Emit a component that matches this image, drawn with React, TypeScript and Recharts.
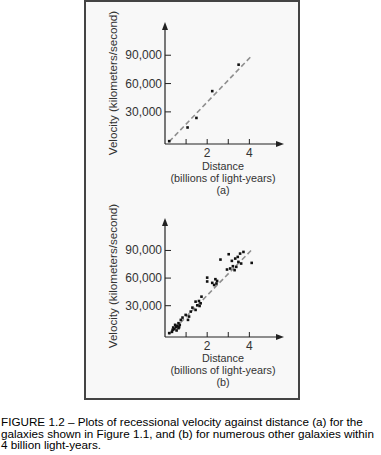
import React from "react";
import {
  ScatterChart,
  Scatter,
  XAxis,
  YAxis,
  ReferenceLine,
} from "recharts";

// (a) galaxies of Figure 1.1: distance (billions of ly), velocity (km/s)
const distA = [0.2, 1.07, 1.49, 2.24, 3.49];
const velA = [-1000, 13500, 23600, 52000, 80000];
const fitA = [
  { x: 0.2, y: -1500 },
  { x: 4.05, y: 88000 },
];

// (b) numerous other galaxies
const distB = [
  3.72, 3.56, 3.45, 3.33, 3.17, 3.02, 2.63, 3.48, 3.61, 3.22, 3.38, 3.09, 2.94, 3.3, 4.11,
  2.0, 2.0, 2.24, 2.39, 2.47, 2.44, 2.33,
  1.73, 1.61, 1.45, 1.69, 1.53, 1.64, 1.45, 1.3, 1.22, 1.14, 0.98, 1.09, 0.83, 0.75, 0.64,
  0.58, 0.7, 0.52, 0.44, 0.36, 0.33, 0.2, 0.55, 0.64, 0.67, 0.48, 0.39,
];
const velB = [
  88400, 86600, 83000, 81200, 78700, 85900, 80100, 77600, 75800, 72900, 72200, 70400, 69300, 68600, 76500,
  60500, 56300, 54800, 58800, 56900, 54100, 52500,
  39800, 35100, 34400, 32600, 30400, 29700, 25400, 27900, 23600, 18200, 20000, 14600, 17100, 14600, 11000,
  8100, 9200, 6700, 4500, 3800, 1600, 200, 3100, 5600, 6700, 9200, 6300,
];
const fitB = [
  { x: 0.2, y: -900 },
  { x: 4.08, y: 90000 },
];

const xTicks = [1, 2, 3, 4];
const yTicks = [30000, 60000, 90000];
const xDomain = [0, 5.5];
const yDomain = [-4000, 122000];
// arrowheads sit at the ends of the two axes
const axisEnds = [
  { x: xDomain[0], y: yDomain[1], dir: "up" },
  { x: xDomain[1], y: yDomain[0], dir: "right" },
];

const FONT = "'Liberation Sans', Arial, sans-serif";

const toPoints = (xs: number[], ys: number[]) => xs.map((x, i) => ({ x, y: ys[i] }));

const XTick = (props: any) => {
  const { x, y, payload } = props;
  return (
    <g>
      <line x1={x} x2={x} y1={y} y2={y - 5} stroke="#222" strokeWidth={1} />
      {payload.value % 2 === 0 && (
        <text x={x} y={y + 12.8} textAnchor="middle" fontSize={12} fill="#333" fontFamily={FONT}>
          {payload.value}
        </text>
      )}
    </g>
  );
};

const YTick = (props: any) => {
  const { x, y, payload } = props;
  return (
    <g>
      <line x1={x} x2={x + 6} y1={y} y2={y} stroke="#222" strokeWidth={1} />
      <text x={x - 3} y={y + 4} textAnchor="end" fontSize={12} fill="#333" fontFamily={FONT}>
        {payload.value.toLocaleString("en-US")}
      </text>
    </g>
  );
};

const Dot = (props: any) => {
  const { cx, cy } = props;
  return <rect x={cx - 1.3} y={cy - 1.3} width={2.6} height={2.6} fill="#111" />;
};

const Arrow = (props: any) => {
  const { cx, cy, payload } = props;
  const d =
    payload.dir === "up"
      ? `M${cx},${cy - 3} L${cx - 3},${cy + 5} L${cx + 3},${cy + 5} Z`
      : `M${cx + 3},${cy} L${cx - 5},${cy - 3} L${cx - 5},${cy + 3} Z`;
  return <path d={d} fill="#222" />;
};

const Panel = ({ data, fit, plotHeight }: any) => {
  const top = 25;
  const height = 200;
  return (
    <ScatterChart
      width={300}
      height={height}
      margin={{ top, right: 19, left: 164, bottom: height - top - plotHeight - 1 }}
    >
      <XAxis
        type="number"
        dataKey="x"
        domain={xDomain}
        ticks={xTicks}
        interval={0}
        height={1}
        tickSize={0}
        tickMargin={0}
        tickLine={false}
        tick={<XTick />}
        axisLine={{ stroke: "#222", strokeWidth: 1.2 }}
      />
      <YAxis
        type="number"
        dataKey="y"
        domain={yDomain}
        ticks={yTicks}
        interval={0}
        width={1}
        tickSize={0}
        tickMargin={0}
        tickLine={false}
        tick={<YTick />}
        axisLine={{ stroke: "#222", strokeWidth: 1.2 }}
      />
      <ReferenceLine
        segment={fit}
        stroke="#8f8f8f"
        strokeWidth={1.6}
        strokeDasharray="5 3"
      />
      <Scatter data={axisEnds} shape={<Arrow />} isAnimationActive={false} />
      <Scatter data={data} shape={<Dot />} isAnimationActive={false} />
    </ScatterChart>
  );
};

const textStyle: React.CSSProperties = {
  position: "absolute",
  fontFamily: FONT,
  fontSize: 10.8,
  color: "#333",
  whiteSpace: "nowrap",
  lineHeight: "11px",
  textAlign: "center",
  left: 143,
  width: 160,
};

const Labels = ({ top, tag, yCenter }: any) => (
  <>
    <div
      style={{
        ...textStyle,
        left: 113 - 80,
        top: yCenter - 6,
        width: 160,
        lineHeight: "12px",
        transform: "rotate(-90deg)",
        fontSize: 11.6,
      }}
    >
      Velocity (kilometers/second)
    </div>
    <div style={{ ...textStyle, top: top - 5.5 }}>Distance</div>
    <div style={{ ...textStyle, top: top + 7 }}>(billions of light-years)</div>
    <div style={{ ...textStyle, top: top + 19 }}>{tag}</div>
  </>
);

export default function App() {
  return (
    <div
      style={{
        position: "absolute",
        left: 0,
        top: 0,
        width: 381,
        height: 455,
        background: "#fff",
        overflow: "hidden",
      }}
    >
      <div
        style={{
          position: "absolute",
          left: 84,
          top: 0,
          width: 212,
          height: 396,
          border: "2px solid #444",
          background: "#f8f8f8",
        }}
      />
      <div style={{ position: "absolute", left: 0, top: 0 }}>
        <Panel data={toPoints(distA, velA)} fit={fitA} plotHeight={119} />
      </div>
      <div style={{ position: "absolute", left: 0, top: 196 }}>
        <Panel data={toPoints(distB, velB)} fit={fitB} plotHeight={116} />
      </div>
      <Labels top={166} tag="(a)" yCenter={83} />
      <Labels top={358} tag="(b)" yCenter={276} />
      <div
        style={{
          position: "absolute",
          left: 1,
          top: 416,
          fontFamily: FONT,
          fontSize: 11.7,
          lineHeight: "11.7px",
          color: "#000",
          whiteSpace: "nowrap",
        }}
      >
        FIGURE 1.2 – Plots of recessional velocity against distance (a) for the
        <br />
        galaxies shown in Figure 1.1, and (b) for numerous other galaxies within
        <br />
        4 billion light-years.
      </div>
    </div>
  );
}
